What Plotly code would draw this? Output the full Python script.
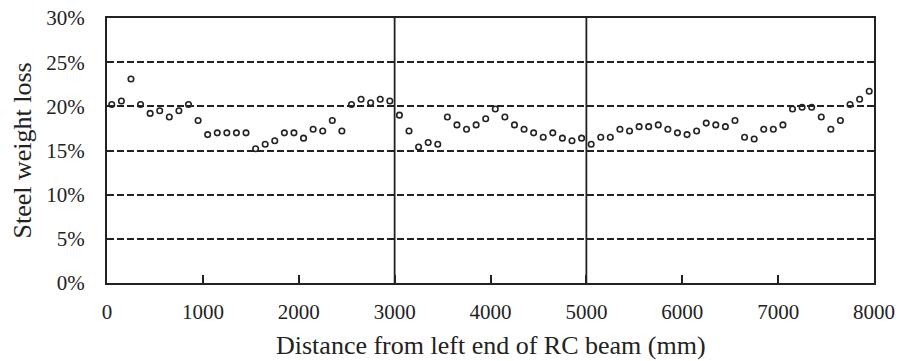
import plotly.graph_objects as go

distance_mm = [50 + 100 * i for i in range(80)]
weight_loss_pct = [
    20.2, 20.6, 23.1, 20.2, 19.2, 19.5, 18.8, 19.5, 20.2, 18.4,
    16.8, 17.0, 17.0, 17.0, 17.0, 15.2, 15.7, 16.1, 17.0, 17.0,
    16.4, 17.4, 17.2, 18.4, 17.2, 20.2, 20.8, 20.4, 20.8, 20.6,
    19.0, 17.2, 15.4, 15.9, 15.7, 18.8, 17.9, 17.4, 17.9, 18.6,
    19.7, 18.8, 17.9, 17.4, 17.0, 16.5, 17.0, 16.4, 16.1, 16.4,
    15.7, 16.5, 16.5, 17.4, 17.2, 17.7, 17.7, 17.9, 17.4, 17.0,
    16.8, 17.2, 18.1, 17.9, 17.7, 18.4, 16.5, 16.3, 17.4, 17.4,
    17.9, 19.7, 19.9, 19.9, 18.8, 17.4, 18.4, 20.2, 20.8, 21.7,
]
x_ticks = [0, 1000, 2000, 3000, 4000, 5000, 6000, 7000, 8000]
y_ticks = [0, 5, 10, 15, 20, 25, 30]
y_tick_labels = [f"{v}%" for v in y_ticks]
section_bounds = [3000, 5000]
x_title = "Distance from left end of RC beam (mm)"
y_title = "Steel weight loss"

font = "Liberation Serif, Times New Roman, serif"
ink = "#222"

fig = go.Figure()
fig.add_trace(go.Scatter(
    x=distance_mm, y=weight_loss_pct, mode="markers",
    marker=dict(symbol="circle-open", size=5.5, color=ink, line=dict(width=1.6, color=ink)),
    showlegend=False, cliponaxis=False,
))

for xb in section_bounds:
    fig.add_shape(type="line", xref="x", yref="paper", x0=xb, x1=xb, y0=0, y1=1,
                  line=dict(color=ink, width=1.8))

fig.update_xaxes(
    range=[0, 8000], tickvals=x_ticks, ticks="inside", ticklen=8, tickwidth=1.5, tickcolor=ink,
    showgrid=False, zeroline=False, showline=True, linecolor=ink, linewidth=2, mirror=True,
    tickfont=dict(family=font, size=21, color=ink), ticklabelstandoff=9, automargin=False,
)
fig.update_yaxes(
    range=[0, 30], tickvals=y_ticks, ticktext=y_tick_labels, ticks="",
    showgrid=True, gridcolor=ink, gridwidth=2, griddash="7px,3px",
    zeroline=False, showline=True, linecolor=ink, linewidth=2, mirror=True,
    tickfont=dict(family=font, size=21, color=ink), ticklabelstandoff=16, automargin=False,
)
fig.add_annotation(text=x_title, xref="paper", yref="paper", x=0.5, y=0,
                   xanchor="center", yanchor="middle", yshift=-62, showarrow=False,
                   font=dict(family=font, size=26, color=ink))
fig.add_annotation(text=y_title, xref="paper", yref="paper", x=0, y=0.5,
                   xanchor="center", yanchor="middle", xshift=-85, textangle=-90, showarrow=False,
                   font=dict(family=font, size=26, color=ink))
fig.update_layout(
    width=900, height=361, margin=dict(l=107, r=26, t=18, b=78),
    paper_bgcolor="white", plot_bgcolor="white",
)
fig.write_html("out.html")
